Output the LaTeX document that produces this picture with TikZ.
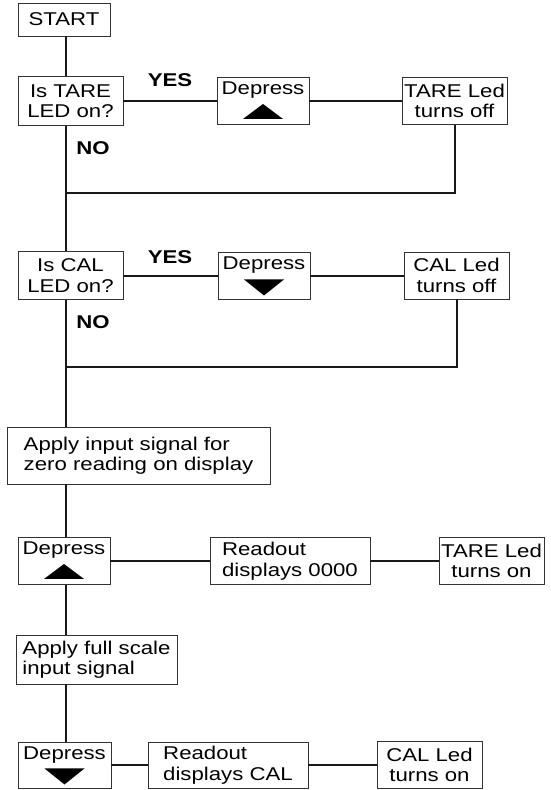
\documentclass[tikz,border=0pt]{standalone}
\usepackage{fontspec}
\setmainfont{Liberation Sans}[FakeStretch=1.2]
\usepackage{tikz}

\begin{document}
\begin{tikzpicture}[x=1pt, y=-1pt,
            font=\fontsize{18.5}{20.5}\selectfont,
            box/.style={draw=black!80, line width=0.9pt, inner sep=0pt, align=center, minimum height=47pt},
            conn/.style={line width=2pt, black!90},
            ans/.style={font=\fontsize{18.5}{20.5}\selectfont\bfseries},
            deptext/.style={anchor=north, inner sep=2pt}]
            \useasboundingbox (0,0) rectangle (551,790);
            \coordinate (spine) at (66,0);

            \node[box, minimum width=92pt, minimum height=33pt] (start) at (64,19.5) {START};

            \node[box, minimum width=105pt, minimum height=49pt] (tare) at (70.5,101) {Is TARE\\LED on?};
            \node[box, minimum width=92pt] (dep1) at (263,101) {};
            \node[box, minimum width=105pt] (tareoff) at (454.5,101) {TARE Led\\turns off};
            \node[ans] (yes1) at (170,80) {YES};
            \node[ans] (no1) at (93,148) {NO};
            \coordinate (j1) at (66,193);

            \node[box, minimum width=105pt, minimum height=48pt] (cal) at (70.5,275.5) {Is CAL\\LED on?};
            \node[box, minimum width=92pt] (dep2) at (264,275.5) {};
            \node[box, minimum width=105pt] (caloff) at (456.5,275.5) {CAL Led\\turns off};
            \node[ans] (yes2) at (170,257) {YES};
            \node[ans] (no2) at (93,322) {NO};
            \coordinate (j2) at (66,367);

            \node[box, align=left, minimum width=263pt, minimum height=57pt] (zero) at (138.5,455.5) {Apply input signal for\\zero reading on display};

            \node[box, minimum width=92pt] (dep3) at (64,561) {};
            \node[box, align=left, minimum width=160pt] (read1) at (290,561) {Readout\\displays 0000};
            \node[box, minimum width=105pt] (tareon) at (491.5,561) {TARE Led\\turns on};

            \node[box, align=left, minimum width=161pt, minimum height=49pt] (full) at (96.5,659.5) {Apply full scale\\input signal};

            \node[box, minimum width=93pt, minimum height=46pt] (dep4) at (64.5,765) {};
            \node[box, align=left, minimum width=160pt, minimum height=46pt] (read2) at (228,765) {Readout\\displays CAL};
            \node[box, minimum width=105pt] (calon) at (429.5,765) {CAL Led\\turns on};

            \foreach \d in {dep1,dep2,dep3,dep4}
                \node[deptext] (\d t) at ([yshift=-3pt]\d.north) {Depress};
            \foreach \d in {dep1,dep3}
                \fill ([xshift=-20pt,yshift=6pt]\d.south) -- ([xshift=20pt,yshift=6pt]\d.south) -- ([yshift=21pt]\d.south) -- cycle;
            \foreach \d in {dep2,dep4}
                \fill ([xshift=-20pt,yshift=20pt]\d.south) -- ([xshift=20pt,yshift=20pt]\d.south) -- ([yshift=4pt]\d.south) -- cycle;

            \foreach \a/\b in {start/tare,tare/cal,cal/zero,zero/dep3,dep3/full,full/dep4}
                \draw[conn] (spine |- \a.south) -- (spine |- \b.north);
            \foreach \a/\b in {tare/dep1,dep1/tareoff,cal/dep2,dep2/caloff,dep3/read1,read1/tareon,dep4/read2,read2/calon}
                \draw[conn] (\a) -- (\b);
            \draw[conn] (tareoff.south) |- (j1);
            \draw[conn] (caloff.south) |- (j2);
        \end{tikzpicture}
\end{document}
